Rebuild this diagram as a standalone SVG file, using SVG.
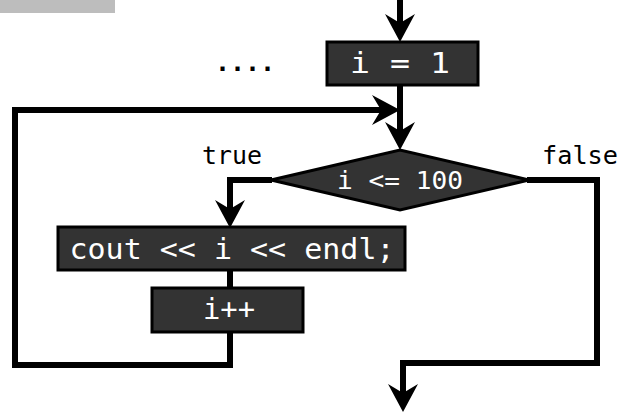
<svg xmlns="http://www.w3.org/2000/svg" width="619" height="414" viewBox="0 0 619 414">
<style>
.box{fill:#333;stroke:#000;stroke-width:3}
.wt{fill:#fff;font-family:"DejaVu Sans Mono","Liberation Mono",monospace;text-anchor:middle}
.bt{fill:#000;font-family:"DejaVu Sans Mono","Liberation Mono",monospace;font-size:25px}
.ln{fill:none;stroke:#000;stroke-width:6;stroke-linejoin:miter}
</style>
<defs>
<marker id="ah" markerUnits="userSpaceOnUse" viewBox="-22 -16 32 32" markerWidth="32" markerHeight="32" refX="0" refY="0" orient="auto">
<path d="M8,0 L-20,-15 L-11,0 L-20,15 Z" fill="#000"/>
</marker>
</defs>
<rect x="0" y="0" width="115" height="13" fill="#bdbdbd"/>
<text x="245" y="71" class="bt" text-anchor="middle" font-weight="bold" font-size="28">....</text>
<g id="connectors">
<path class="ln" d="M400,0 V34" marker-end="url(#ah)"/>
<path class="ln" d="M400,85 V142" marker-end="url(#ah)"/>
<path class="ln" d="M230,332 V365 H15 V110 H392" marker-end="url(#ah)"/>
<path class="ln" d="M272,180 H230 V220" marker-end="url(#ah)"/>
<path class="ln" d="M230,270 V288"/>
<path class="ln" d="M527,180 H597 V363 H403 V404" marker-end="url(#ah)"/>
<text x="202" y="164" class="bt" textLength="60" lengthAdjust="spacingAndGlyphs">true</text>
<text x="542" y="164" class="bt" textLength="76" lengthAdjust="spacingAndGlyphs">false</text>
</g>
<g id="init">
<rect class="box" x="327" y="42" width="151" height="43"/>
<text class="wt" x="400" y="73" font-size="28" textLength="100" lengthAdjust="spacingAndGlyphs">i = 1</text>
</g>
<g id="cond">
<polygon class="box" points="271,180 400,150 529,180 400,210"/>
<text class="wt" x="400" y="189" font-size="24" textLength="126" lengthAdjust="spacingAndGlyphs">i &lt;= 100</text>
</g>
<g id="print">
<rect class="box" x="58" y="227" width="347" height="43"/>
<text class="wt" x="232" y="259" font-size="29" textLength="325" lengthAdjust="spacingAndGlyphs">cout &lt;&lt; i &lt;&lt; endl;</text>
</g>
<g id="incr">
<rect class="box" x="152" y="288" width="151" height="44"/>
<text class="wt" x="229" y="319" font-size="28" textLength="52" lengthAdjust="spacingAndGlyphs">i++</text>
</g>
</svg>
